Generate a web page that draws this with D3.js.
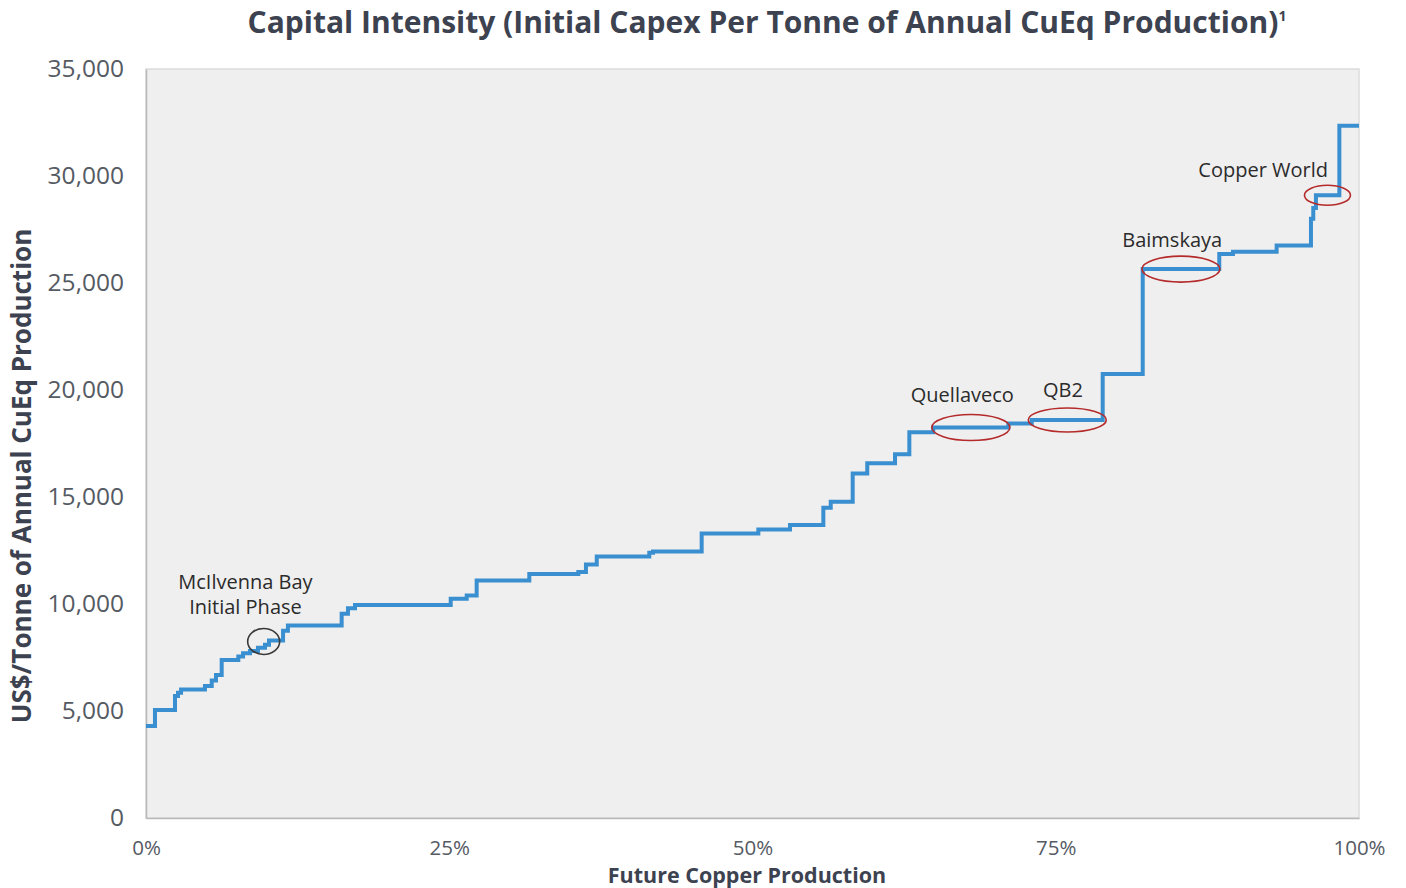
<!DOCTYPE html>
<html>
<head>
<meta charset="utf-8">
<script src="https://cdn.jsdelivr.net/npm/d3@7"></script>
<style>
  html, body { margin: 0; padding: 0; background: #ffffff; }
  svg { display: block; }
</style>
</head>
<body>
<svg id="chart" width="1406" height="888"></svg>
<script>
// Cumulative share of future copper production (%) at the start of each project step
const shareStart = [0, 0.74, 2.39, 2.64, 2.89, 4.86, 5.42, 5.77, 6.24, 7.61, 8.0, 8.57, 9.23, 9.81, 10.14,
  11.3, 11.7, 16.13, 16.65, 17.23, 25.12, 26.44, 27.26, 31.6, 35.64, 36.27, 37.16, 41.49, 41.8,
  45.81, 50.48, 53.09, 55.84, 56.45, 58.26, 59.46, 61.75, 62.93, 64.9, 71.09, 73.02, 78.87,
  82.17, 88.48, 89.61, 93.21, 96.04, 96.23, 96.45, 98.38];
// Initial capex per tonne of annual CuEq production (US$/t) for each step
const capIntensity = [4300, 5050, 5700, 5850, 6000, 6170, 6420, 6680, 7380, 7550, 7700, 7800, 7950, 8100, 8300,
  8750, 9000, 9550, 9800, 9950, 10250, 10400, 11100, 11400, 11500, 11850, 12220, 12400, 12450,
  13300, 13480, 13690, 14500, 14780, 16100, 16580, 17000, 18030, 18250, 18440, 18600, 20750,
  25650, 26350, 26460, 26750, 28000, 28500, 29100, 32350];
const shareEnd = 100;

const yTicks = [0, 5000, 10000, 15000, 20000, 25000, 30000, 35000];
const xTicks = [0, 25, 50, 75, 100];

// Highlighted projects: label lines, ellipse centre (share %, US$/t), label anchor
const annLabels = [["McIlvenna Bay", "Initial Phase"], ["Quellaveco"], ["QB2"], ["Baimskaya"], ["Copper World"]];
const annShare = [9.7, 68.0, 75.95, 85.32, 97.4];
const annValue = [8250, 18250, 18600, 25650, 29100];
const annLabelShare = [8.2, 67.3, 75.6, 84.6, 92.1];
const annLabelValue = [10700, 19430, 19680, 26690, 29930];

const title = "Capital Intensity (Initial Capex Per Tonne of Annual CuEq Production)";

const W = 1406, H = 888;
const margin = { top: 69, right: 47, bottom: 70, left: 146 };
const iw = W - margin.left - margin.right;
const ih = H - margin.top - margin.bottom;

const svg = d3.select("#chart");
const font = "'Open Sans', Lato, sans-serif";

const x = d3.scaleLinear().domain([0, 100]).range([0, iw]);
const y = d3.scaleLinear().domain([0, 35000]).range([ih, 0]);

const g = svg.append("g").attr("transform", `translate(${margin.left},${margin.top})`);

// plot background
g.append("rect")
  .attr("x", 0).attr("y", 0).attr("width", iw).attr("height", ih)
  .attr("fill", "#efefef").attr("stroke", "#dcdcdc").attr("stroke-width", 1.5);

// axes
const yAxis = d3.axisLeft(y).tickValues(yTicks).tickSize(0).tickPadding(22)
  .tickFormat(d3.format(","));
const yg = g.append("g").call(yAxis);
yg.select(".domain").attr("stroke", "#b8b8b8").attr("stroke-width", 1.5);
yg.selectAll("text").attr("font-family", font).attr("font-size", 24.5).attr("fill", "#555a63");

const xAxis = d3.axisBottom(x).tickValues(xTicks).tickSize(0).tickPadding(22)
  .tickFormat(d => d + "%");
const xg = g.append("g").attr("transform", `translate(0,${ih})`).call(xAxis);
xg.select(".domain").attr("stroke", "#b8b8b8").attr("stroke-width", 1.5);
xg.selectAll("text").attr("font-family", font).attr("font-size", 20.5).attr("fill", "#555a63");

// step curve
const pts = shareStart.map((s, i) => [s, capIntensity[i]]);
pts.push([shareEnd, capIntensity[capIntensity.length - 1]]);
const line = d3.line().x(d => x(d[0])).y(d => y(d[1])).curve(d3.curveStepAfter);
g.append("path").datum(pts)
  .attr("d", line)
  .attr("fill", "none")
  .attr("stroke", "#3a8fd0")
  .attr("stroke-width", 4)
  .attr("stroke-linejoin", "miter");

// highlight ellipses and labels
const ellipseR = [[16, 13], [39, 13], [39, 12], [39, 13], [23, 10]];
const ellipseColor = ["#3a3a3a", "#b52a2a", "#b52a2a", "#b52a2a", "#b52a2a"];
annLabels.forEach((lines, i) => {
  g.append("ellipse")
    .attr("cx", x(annShare[i])).attr("cy", y(annValue[i]))
    .attr("rx", ellipseR[i][0]).attr("ry", ellipseR[i][1])
    .attr("fill", "none").attr("stroke", ellipseColor[i]).attr("stroke-width", 1.6);
  const t = g.append("text")
    .attr("x", x(annLabelShare[i])).attr("y", y(annLabelValue[i]))
    .attr("text-anchor", "middle")
    .attr("font-family", font).attr("font-size", 20).attr("fill", "#2b2b2b");
  lines.forEach((ln, j) => {
    t.append("tspan").attr("x", x(annLabelShare[i])).attr("dy", j === 0 ? 0 : 25).text(ln);
  });
});

// title
const tt = svg.append("text")
  .attr("x", 767).attr("y", 33)
  .attr("text-anchor", "middle")
  .attr("font-family", font).attr("font-weight", 700).attr("font-size", 30)
  .attr("fill", "#3d4250")
  .text(title);
tt.append("tspan").attr("font-size", 14).attr("dy", -12).text("1");

// axis titles
svg.append("text")
  .attr("transform", `translate(31,${476}) rotate(-90)`)
  .attr("text-anchor", "middle")
  .attr("font-family", font).attr("font-weight", 700).attr("font-size", 26)
  .attr("fill", "#3d4250")
  .text("US$/Tonne of Annual CuEq Production");

svg.append("text")
  .attr("x", 747).attr("y", 883)
  .attr("text-anchor", "middle")
  .attr("font-family", font).attr("font-weight", 700).attr("font-size", 21.5)
  .attr("fill", "#3d4250")
  .text("Future Copper Production");
</script>
</body>
</html>
